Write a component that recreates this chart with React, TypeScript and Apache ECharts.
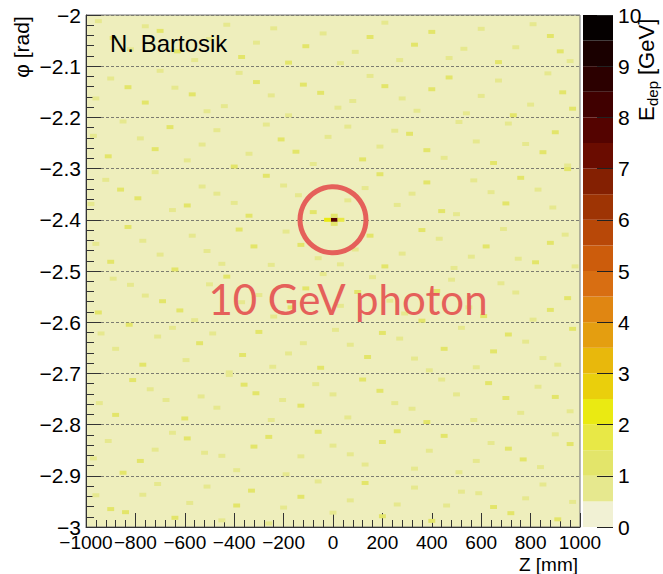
import React, { useEffect, useRef } from "react";
import * as echarts from "echarts";

// ---- data ----
const zRange = [-1000, 1000];
const phiRange = [-3, -2];
const energyRange = [0, 10];

// colour palette levels (GeV) of the 20 colour bands
const colorLevels = [0, 0.5, 1, 1.5, 2, 2.5, 3, 3.5, 4, 4.5, 5, 5.5, 6, 6.5, 7, 7.5, 8, 8.5, 9, 9.5, 10];
const palette = [
  "#f1f1d4", "#e6e88e", "#e3e56a", "#e8e846", "#eaea12",
  "#eacf0c", "#e8b80c", "#e49e10", "#e08612", "#d86e12",
  "#cc5c0c", "#b84808", "#9e3404", "#842002", "#6a0c00",
  "#540300", "#400000", "#2c0000", "#1a0000", "#050000",
];

// beam-induced background hits: [Z mm, phi rad, E GeV]
const backgroundHits: [number, number, number][] = [
  [-950, -2.012, 0.7], [-820, -2.067, 0.7], [-700, -2.031, 1.2], [-560, -2.088, 0.7], [-430, -2.019, 0.7],
  [-310, -2.054, 0.7], [-180, -2.093, 1.2], [-40, -2.036, 0.7], [90, -2.072, 0.7], [210, -2.015, 0.7],
  [330, -2.058, 1.2], [470, -2.084, 0.7], [600, -2.027, 0.7], [740, -2.063, 0.7], [880, -2.041, 1.2], [960, -2.09, 0.7],
  [-900, -2.124, 0.7], [-760, -2.171, 1.2], [-640, -2.142, 0.7], [-510, -2.188, 0.7], [-380, -2.113, 0.7],
  [-250, -2.157, 0.7], [-120, -2.136, 1.2], [20, -2.181, 0.7], [150, -2.119, 0.7], [280, -2.163, 0.7],
  [400, -2.145, 1.2], [540, -2.192, 0.7], [670, -2.128, 0.7], [800, -2.175, 0.7], [930, -2.151, 1.2],
  [-970, -2.236, 0.7], [-850, -2.208, 0.7], [-720, -2.262, 1.2], [-590, -2.284, 0.7], [-470, -2.225, 0.7],
  [-340, -2.271, 0.7], [-210, -2.243, 1.2], [-80, -2.291, 0.7], [60, -2.218, 0.7], [190, -2.257, 0.7],
  [310, -2.232, 1.2], [450, -2.279, 0.7], [580, -2.247, 0.7], [710, -2.212, 0.7], [850, -2.268, 1.2], [950, -2.294, 0.7],
  [-920, -2.322, 0.7], [-790, -2.358, 1.2], [-650, -2.381, 0.7], [-530, -2.335, 0.7], [-400, -2.367, 0.7],
  [-270, -2.314, 1.2], [-140, -2.352, 0.7], [130, -2.338, 0.7], [260, -2.371, 0.7], [380, -2.327, 1.2],
  [500, -2.389, 0.7], [640, -2.346, 0.7], [760, -2.318, 1.2], [890, -2.376, 0.7],
  [-960, -2.447, 0.7], [-830, -2.414, 1.2], [-700, -2.468, 0.7], [-570, -2.431, 0.7], [-450, -2.486, 0.7],
  [-320, -2.452, 1.2], [-190, -2.423, 0.7], [-60, -2.475, 0.7], [90, -2.458, 0.7], [210, -2.491, 1.2],
  [430, -2.437, 0.7], [560, -2.472, 0.7], [690, -2.418, 0.7], [820, -2.483, 1.2], [940, -2.429, 0.7],
  [-890, -2.515, 0.7], [-760, -2.548, 0.7], [-620, -2.577, 1.2], [-500, -2.526, 0.7], [-370, -2.561, 0.7],
  [-240, -2.589, 0.7], [-110, -2.534, 1.2], [30, -2.568, 0.7], [160, -2.512, 0.7], [290, -2.583, 0.7],
  [420, -2.539, 1.2], [550, -2.571, 0.7], [680, -2.524, 0.7], [810, -2.595, 0.7], [950, -2.553, 1.2],
  [-939, -2.622, 0.7], [-825, -2.605, 1.2], [-710, -2.628, 0.7], [-595, -2.674, 0.7], [-487, -2.622, 0.7],
  [-366, -2.664, 1.2], [-244, -2.687, 0.7], [-120, -2.641, 0.7], [10, -2.615, 0.7], [140, -2.668, 1.2],
  [270, -2.632, 0.7], [390, -2.694, 0.7], [520, -2.611, 0.7], [650, -2.657, 1.2], [780, -2.638, 0.7], [910, -2.683, 0.7],
  [-946, -2.758, 0.7], [-811, -2.713, 1.2], [-676, -2.752, 0.7], [-534, -2.745, 0.7], [-420, -2.703, 0.7],
  [-312, -2.739, 1.2], [-204, -2.752, 0.7], [-70, -2.721, 0.7], [60, -2.786, 0.7], [190, -2.734, 1.2],
  [320, -2.769, 0.7], [440, -2.712, 0.7], [570, -2.791, 0.7], [700, -2.748, 1.2], [830, -2.726, 0.7], [960, -2.774, 0.7],
  [-910, -2.832, 0.7], [-780, -2.871, 1.2], [-650, -2.816, 0.7], [-520, -2.855, 0.7], [-390, -2.889, 0.7],
  [-260, -2.824, 1.2], [-130, -2.862, 0.7], [0, -2.841, 0.7], [130, -2.878, 0.7], [260, -2.813, 1.2],
  [390, -2.851, 0.7], [510, -2.893, 0.7], [640, -2.836, 0.7], [770, -2.868, 1.2], [900, -2.819, 0.7],
  [-960, -2.938, 0.7], [-840, -2.971, 1.2], [-710, -2.916, 0.7], [-580, -2.953, 0.7], [-450, -2.987, 0.7],
  [-330, -2.929, 1.2], [-200, -2.962, 0.7], [-60, -2.911, 0.7], [70, -2.948, 0.7], [200, -2.979, 1.2],
  [330, -2.923, 0.7], [460, -2.958, 0.7], [590, -2.934, 0.7], [720, -2.973, 1.2], [850, -2.917, 0.7], [970, -2.951, 0.7],
  // second set
  [-890, -2.045, 1.2], [-760, -2.022, 0.7], [-630, -2.071, 1.2], [-500, -2.047, 0.7], [-370, -2.082, 1.2],
  [-240, -2.026, 0.7], [-110, -2.061, 1.2], [30, -2.094, 0.7], [150, -2.043, 1.2], [270, -2.088, 0.7],
  [400, -2.033, 1.2], [530, -2.066, 0.7], [670, -2.092, 1.2], [810, -2.018, 0.7], [920, -2.071, 1.2],
  [-960, -2.163, 0.7], [-830, -2.141, 1.2], [-700, -2.109, 0.7], [-570, -2.155, 1.2], [-440, -2.178, 0.7],
  [-310, -2.131, 1.2], [-180, -2.196, 0.7], [-50, -2.152, 1.2], [80, -2.168, 0.7], [210, -2.139, 1.2],
  [340, -2.187, 0.7], [470, -2.122, 1.2], [600, -2.158, 0.7], [730, -2.196, 1.2], [870, -2.114, 0.7], [970, -2.183, 1.2],
  [-910, -2.276, 1.2], [-780, -2.241, 0.7], [-660, -2.219, 1.2], [-530, -2.253, 0.7], [-400, -2.296, 1.2],
  [-270, -2.214, 0.7], [-150, -2.267, 1.2], [-20, -2.238, 0.7], [120, -2.282, 1.2], [250, -2.226, 0.7],
  [380, -2.264, 1.2], [510, -2.209, 0.7], [650, -2.289, 1.2], [780, -2.252, 0.7], [900, -2.229, 1.2],
  [-980, -2.369, 0.7], [-860, -2.341, 1.2], [-720, -2.307, 0.7], [-590, -2.372, 1.2], [-470, -2.349, 0.7],
  [-340, -2.392, 1.2], [-200, -2.333, 0.7], [-80, -2.385, 1.2], [60, -2.362, 0.7], [190, -2.311, 1.2],
  [320, -2.349, 0.7], [440, -2.383, 1.2], [570, -2.323, 0.7], [700, -2.368, 1.2], [830, -2.341, 0.7], [950, -2.301, 1.2],
  [-900, -2.482, 1.2], [-770, -2.441, 0.7], [-640, -2.497, 1.2], [-510, -2.461, 0.7], [-380, -2.419, 1.2],
  [-250, -2.488, 0.7], [-130, -2.449, 1.2], [30, -2.487, 0.7], [150, -2.431, 1.2], [280, -2.466, 0.7],
  [360, -2.42, 1.2], [490, -2.494, 0.7], [620, -2.452, 1.2], [750, -2.476, 0.7], [880, -2.445, 1.2], [980, -2.491, 0.7],
  [-950, -2.581, 1.2], [-820, -2.527, 0.7], [-690, -2.559, 1.2], [-560, -2.596, 0.7], [-430, -2.511, 1.2],
  [-300, -2.547, 0.7], [-170, -2.571, 1.2], [-40, -2.506, 0.7], [100, -2.541, 1.2], [230, -2.558, 0.7],
  [360, -2.597, 1.2], [480, -2.517, 0.7], [610, -2.588, 1.2], [740, -2.542, 0.7], [880, -2.576, 1.2],
  [-880, -2.652, 0.7], [-770, -2.683, 1.2], [-650, -2.611, 0.7], [-540, -2.641, 1.2], [-420, -2.698, 0.7],
  [-300, -2.619, 1.2], [-180, -2.661, 0.7], [-50, -2.689, 1.2], [70, -2.644, 0.7], [200, -2.621, 1.2],
  [330, -2.671, 0.7], [450, -2.652, 1.2], [580, -2.688, 0.7], [710, -2.624, 1.2], [850, -2.67, 0.7], [970, -2.613, 1.2],
  [-880, -2.781, 1.2], [-740, -2.731, 0.7], [-600, -2.788, 1.2], [-470, -2.767, 0.7], [-360, -2.722, 1.2],
  [-250, -2.791, 0.7], [-130, -2.763, 1.2], [0, -2.741, 0.7], [120, -2.712, 1.2], [250, -2.758, 0.7],
  [380, -2.795, 1.2], [500, -2.741, 0.7], [630, -2.719, 1.2], [760, -2.777, 0.7], [900, -2.746, 1.2],
  [-970, -2.866, 0.7], [-850, -2.894, 1.2], [-720, -2.849, 0.7], [-590, -2.827, 1.2], [-450, -2.861, 0.7],
  [-320, -2.843, 1.2], [-190, -2.897, 0.7], [-60, -2.814, 1.2], [70, -2.858, 0.7], [200, -2.834, 1.2],
  [330, -2.886, 0.7], [450, -2.822, 1.2], [580, -2.871, 0.7], [710, -2.847, 1.2], [840, -2.883, 0.7], [960, -2.838, 1.2],
  [-900, -2.965, 1.2], [-770, -2.937, 0.7], [-640, -2.982, 1.2], [-510, -2.921, 0.7], [-390, -2.958, 1.2],
  [-260, -2.993, 0.7], [-130, -2.941, 1.2], [0, -2.972, 0.7], [130, -2.914, 1.2], [260, -2.956, 0.7],
  [400, -2.988, 1.2], [520, -2.931, 0.7], [650, -2.961, 1.2], [780, -2.944, 0.7], [910, -2.985, 1.2],
];

// 10 GeV photon shower: [Z mm, phi rad, E GeV]
const photonHits: [number, number, number][] = [
  [5, -2.4, 7.8],
  [-22, -2.4, 2.0],
  [32, -2.4, 1.6],
  [5, -2.392, 1.2],
  [5, -2.408, 1.0],
];

const annotation = { z: 0, phi: -2.4, label: "10 GeV photon" };
const author = "N. Bartosik";

// ---- layout / style constants ----
const BIN_Z = 28;
const BIN_PHI = 0.0078;
const FONT = "'Liberation Sans', Arial, Helvetica, sans-serif";
const RED = "#e5605a";

function colorFor(v: number): string {
  let idx = 0;
  for (let i = 0; i < palette.length; i++) {
    if (v >= colorLevels[i]) idx = i;
  }
  return palette[idx];
}

const minus = (s: string) => s.replace("-", "\u2212");

export default function App() {
  const ref = useRef<HTMLDivElement>(null);

  useEffect(() => {
    if (!ref.current) return;
    const chart = echarts.init(ref.current, null, { renderer: "svg" });

    const cellRender = (params: any, api: any) => {
      const z = api.value(0);
      const phi = api.value(1);
      const v = api.value(2);
      const p0 = api.coord([z - BIN_Z / 2, phi + BIN_PHI / 2]);
      const p1 = api.coord([z + BIN_Z / 2, phi - BIN_PHI / 2]);
      return {
        type: "rect",
        shape: { x: p0[0], y: p0[1], width: p1[0] - p0[0], height: p1[1] - p0[1] },
        style: { fill: colorFor(v) },
      };
    };

    const bandData = palette.map((_, i) => [colorLevels[i], colorLevels[i + 1], i]);

    const option: any = {
      animation: false,
      backgroundColor: "#ffffff",
      grid: [
        {
          left: 86, top: 15, width: 494, height: 512,
          show: true, backgroundColor: "#eeeebc", borderColor: "#707070", borderWidth: 1,
        },
        { left: 583, top: 15, width: 30, height: 512, show: false },
      ],
      xAxis: [
        {
          type: "value", gridIndex: 0, min: zRange[0], max: zRange[1], interval: 200,
          axisLine: { show: true, onZero: false, lineStyle: { color: "#333", width: 1 } },
          axisTick: { show: true, inside: true, length: 14, lineStyle: { color: "#333" } },
          minorTick: { show: true, splitNumber: 5, length: 7, lineStyle: { color: "#333" } },
          splitLine: { show: false },
          axisLabel: {
            color: "#000", fontFamily: FONT, fontSize: 19, margin: 6, hideOverlap: false,
            showMinLabel: true, showMaxLabel: true,
            formatter: (v: number) => minus(String(v)),
          },
        },
        { type: "value", gridIndex: 1, min: 0, max: 1, show: false },
      ],
      yAxis: [
        {
          type: "value", gridIndex: 0, min: phiRange[0], max: phiRange[1], interval: 0.1,
          axisLine: { show: true, onZero: false, lineStyle: { color: "#333", width: 1 } },
          axisTick: { show: true, inside: true, length: 15, lineStyle: { color: "#333" } },
          minorTick: { show: true, splitNumber: 5, length: 8, lineStyle: { color: "#333" } },
          splitLine: { show: true, lineStyle: { color: "#7c7c70", type: [3, 2], width: 1 } },
          axisLabel: {
            color: "#000", fontFamily: FONT, fontSize: 21, margin: 5, hideOverlap: false,
            showMinLabel: true, showMaxLabel: true,
            formatter: (v: number) => minus(String(Math.round(v * 10) / 10)),
          },
        },
        {
          type: "value", gridIndex: 1, position: "right", min: energyRange[0], max: energyRange[1], interval: 1,
          z: 10,
          axisLine: { show: false, onZero: false },
          axisTick: { show: true, inside: true, length: 16, lineStyle: { color: "#222" } },
          splitLine: { show: false },
          axisLabel: { color: "#000", fontFamily: FONT, fontSize: 21, margin: 5, showMinLabel: true, showMaxLabel: true },
        },
      ],
      series: [
        {
          type: "custom", name: "background", xAxisIndex: 0, yAxisIndex: 0, clip: true, z: 2,
          renderItem: cellRender, data: backgroundHits,
        },
        {
          type: "custom", name: "photon", xAxisIndex: 0, yAxisIndex: 0, clip: true, z: 3,
          renderItem: cellRender, data: photonHits,
        },
        {
          type: "custom", name: "palette", xAxisIndex: 1, yAxisIndex: 1, z: 2,
          renderItem: (params: any, api: any) => {
            const lo = api.value(0);
            const hi = api.value(1);
            const idx = api.value(2);
            const p0 = api.coord([0, hi]);
            const p1 = api.coord([1, lo]);
            return {
              type: "rect",
              shape: { x: p0[0], y: p0[1], width: p1[0] - p0[0], height: p1[1] - p0[1] },
              style: { fill: palette[idx] },
            };
          },
          data: bandData,
        },
      ],
    };

    chart.setOption(option);

    const c = chart.convertToPixel({ gridIndex: 0 }, [annotation.z, annotation.phi]) as number[];

    chart.setOption({
      graphic: [
        {
          type: "text", x: 110, y: 43,
          style: { text: author, fontFamily: FONT, fontSize: 24, fill: "#000", align: "left", verticalAlign: "middle" },
          z: 20,
        },
        {
          type: "circle", shape: { cx: c[0], cy: c[1], r: 33 },
          style: { fill: "none", stroke: RED, lineWidth: 5 }, z: 20,
        },
        {
          type: "text", x: c[0] + 15, y: c[1] + 79,
          style: { text: annotation.label, fontFamily: "Lato, 'Open Sans', sans-serif", fontSize: 42, fill: RED, align: "center", verticalAlign: "middle" },
          z: 20,
        },
        {
          type: "text", x: 21, y: 47, rotation: Math.PI / 2,
          style: { text: "\u03c6 [rad]", fontFamily: FONT, fontSize: 21, fill: "#000", align: "center", verticalAlign: "middle" },
        },
        {
          type: "text", x: 578, y: 564,
          style: { text: "Z [mm]", fontFamily: FONT, fontSize: 19, fill: "#000", align: "right", verticalAlign: "middle" },
        },
        {
          type: "group", x: 646, y: 121, rotation: Math.PI / 2,
          children: [
            { type: "text", x: 0, y: 0, style: { text: "E", fontFamily: FONT, fontSize: 22, fill: "#000", align: "left", verticalAlign: "middle" } },
            { type: "text", x: 15, y: 6, style: { text: "dep", fontFamily: FONT, fontSize: 15, fill: "#000", align: "left", verticalAlign: "middle" } },
            { type: "text", x: 46, y: 0, style: { text: "[GeV]", fontFamily: FONT, fontSize: 22, fill: "#000", align: "left", verticalAlign: "middle" } },
          ],
        },
      ],
    });

    return () => chart.dispose();
  }, []);

  return <div ref={ref} style={{ position: "absolute", left: 0, top: 0, width: 663, height: 574 }} />;
}
